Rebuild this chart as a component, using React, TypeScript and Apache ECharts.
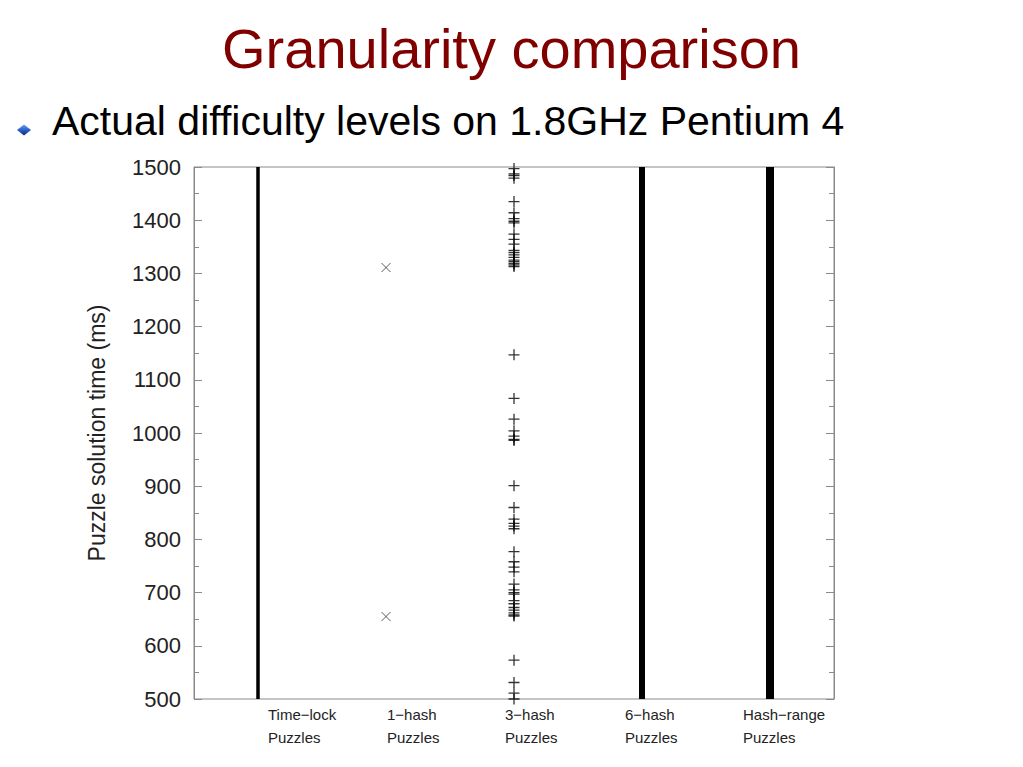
import React, { useEffect, useRef } from "react";
import * as echarts from "echarts";

// ---- data ----
const categories = ["Time−lock", "1−hash", "3−hash", "6−hash", "Hash−range"];
const categorySub = ["Puzzles", "Puzzles", "Puzzles", "Puzzles", "Puzzles"];
const yTicks = [500, 600, 700, 800, 900, 1000, 1100, 1200, 1300, 1400, 1500];

// continuous ranges (drawn as solid bars of points)
const timeLockRange = [500, 1500];
const sixHashRange = [500, 1500];
const hashRangeRange = [500, 1500];

// discrete solution times (ms)
const oneHashTimes = [655, 1311];
const threeHashTimes = [
  500, 511, 531, 573,
  656, 658, 662, 667, 672, 679, 685, 697, 700, 705, 716, 739, 748, 758, 777,
  820, 825, 830, 838, 860, 901,
  986, 988, 994, 1004, 1026, 1065, 1147,
  1313, 1316, 1319, 1322, 1325, 1330, 1335, 1339, 1343, 1355, 1364, 1374,
  1395, 1398, 1403, 1414, 1435, 1479, 1484, 1487, 1497,
];

const FONT = "'Liberation Sans', Arial, Helvetica, sans-serif";

export default function App() {
  const ref = useRef<HTMLDivElement>(null);

  useEffect(() => {
    document.body.style.margin = "0";
    const chart = echarts.init(ref.current!, null, { renderer: "svg" });

    const gridLeft = 194;
    const gridTop = 167;
    const gridW = 640;
    const gridH = 532;

    const labelX = [268, 387, 505, 625, 743];

    const crossSym = "path://M0,0L10,10M10,0L0,10";
    const plusSym = "path://M5,0L5,10M0,5L10,5";

    const option: any = {
      animation: false,
      backgroundColor: "#ffffff",
      grid: {
        left: gridLeft,
        top: gridTop,
        width: gridW,
        height: gridH,
        show: true,
        borderColor: "#8a8a8a",
        borderWidth: 1,
        backgroundColor: "transparent",
      },
      xAxis: {
        type: "value",
        min: 0.5,
        max: 5.5,
        axisLine: { show: false },
        axisTick: { show: false },
        axisLabel: { show: false },
        splitLine: { show: false },
      },
      yAxis: [
        {
          type: "value",
          min: yTicks[0],
          max: yTicks[yTicks.length - 1],
          interval: 100,
          position: "left",
          axisLine: { show: true, lineStyle: { color: "#8a8a8a", width: 1 } },
          axisTick: { show: true, inside: true, length: 8, lineStyle: { color: "#8a8a8a" } },
          minorTick: { show: true, splitNumber: 2, length: 5, lineStyle: { color: "#8a8a8a" } },
          axisLabel: {
            show: true,
            margin: 13,
            fontSize: 22,
            fontFamily: FONT,
            color: "#222",
            formatter: (v: number) => String(v),
          },
          splitLine: { show: false },
          name: "Puzzle solution time (ms)",
          nameLocation: "middle",
          nameGap: 86,
          nameRotate: 90,
          nameTextStyle: { fontSize: 23, fontFamily: FONT, color: "#222" },
        },
        {
          type: "value",
          min: yTicks[0],
          max: yTicks[yTicks.length - 1],
          interval: 100,
          position: "right",
          axisLine: { show: true, lineStyle: { color: "#8a8a8a", width: 1 } },
          axisTick: { show: true, inside: true, length: 8, lineStyle: { color: "#8a8a8a" } },
          minorTick: { show: true, splitNumber: 2, length: 5, lineStyle: { color: "#8a8a8a" } },
          axisLabel: { show: false },
          splitLine: { show: false },
        },
      ],
      series: [
        {
          type: "line",
          name: categories[0],
          data: timeLockRange.map((v) => [1, v]),
          symbol: "none",
          lineStyle: { color: "#000", width: 3.5 },
        },
        {
          type: "scatter",
          name: categories[1],
          data: oneHashTimes.map((v) => [2, v]),
          symbol: crossSym,
          symbolSize: 9,
          itemStyle: { color: "transparent", borderColor: "#333", borderWidth: 1 },
        },
        {
          type: "scatter",
          name: categories[2],
          data: threeHashTimes.map((v) => [3, v]),
          symbol: plusSym,
          symbolSize: 11,
          itemStyle: { color: "transparent", borderColor: "#000", borderWidth: 1.3 },
        },
        {
          type: "line",
          name: categories[3],
          data: sixHashRange.map((v) => [4, v]),
          symbol: "none",
          lineStyle: { color: "#000", width: 6 },
        },
        {
          type: "line",
          name: categories[4],
          data: hashRangeRange.map((v) => [5, v]),
          symbol: "none",
          lineStyle: { color: "#000", width: 8 },
        },
      ],
      graphic: [
        {
          type: "text",
          left: "center",
          top: 20,
          style: {
            text: "Granularity comparison",
            font: `56px ${FONT}`,
            fill: "#800000",
          },
        },
        {
          type: "polygon",
          shape: { points: [[17, 130], [24, 124.5], [31, 130], [24, 135.5]] },
          style: {
            fill: new echarts.graphic.LinearGradient(0, 0, 0, 1, [
              { offset: 0, color: "#6fa0f0" },
              { offset: 0.5, color: "#2a5fc8" },
              { offset: 1, color: "#102a70" },
            ]),
          },
        },
        {
          type: "text",
          x: 52,
          y: 121,
          style: {
            text: "Actual difficulty levels on 1.8GHz Pentium 4",
            font: `41px ${FONT}`,
            fill: "#000",
            textVerticalAlign: "middle",
          },
        },
        ...categories.map((c, i) => ({
          type: "text",
          x: labelX[i],
          y: 714,
          style: {
            text: c,
            font: `15px ${FONT}`,
            fill: "#222",
            textVerticalAlign: "middle",
          },
        })),
        ...categorySub.map((c, i) => ({
          type: "text",
          x: labelX[i],
          y: 737,
          style: {
            text: c,
            font: `15px ${FONT}`,
            fill: "#222",
            textVerticalAlign: "middle",
          },
        })),
      ],
    };

    chart.setOption(option);
    return () => chart.dispose();
  }, []);

  return (
    <div
      ref={ref}
      style={{ position: "fixed", left: 0, top: 0, width: 1023, height: 767 }}
    />
  );
}
